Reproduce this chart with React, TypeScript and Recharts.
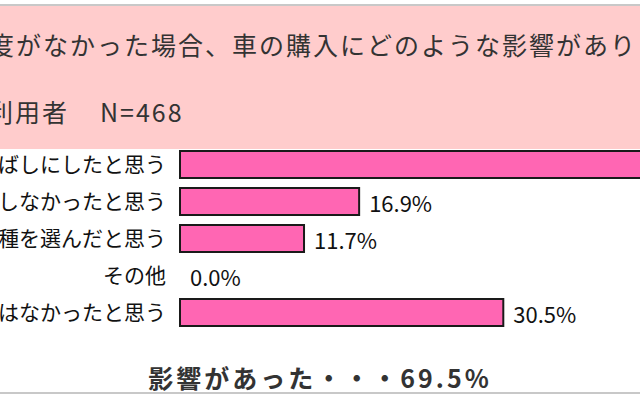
import React from 'react';
import { BarChart, Bar, XAxis, YAxis } from 'recharts';

// answer choices (left part is clipped off in the original crop)
const answers = [
  '購入を先延ばしにしたと思う',
  '購入しなかったと思う',
  '別の車種を選んだと思う',
  'その他',
  '影響はなかったと思う',
];
// share of respondents, %
const shares = [44.0, 16.9, 11.7, 0.0, 30.5];

const rows = answers.map((label, i) => ({ label, value: shares[i] }));

const FONT = '"Noto Sans CJK JP", "Noto Sans", sans-serif';

// bar + its value label, so the 0.0% row still gets a label
const BarWithValue = (props: any) => {
  const { x, y, width, height, payload } = props;
  const v: number = payload ? payload.value : 0;
  return (
    <g>
      {width > 0 && (
        <rect x={x} y={y} width={width} height={height} fill="#FF66B3" stroke="#1a1a1a" strokeWidth={2} />
      )}
      <text
        x={x + width + 10}
        y={y + height / 2}
        dominantBaseline="central"
        fontSize={22}
        fill="#111"
        fontFamily={FONT}
      >
        {`${v.toFixed(1)}%`}
      </text>
    </g>
  );
};

const App: React.FC = () => {
  return (
    <div
      style={{
        position: 'fixed',
        top: 0,
        left: 0,
        width: 640,
        height: 400,
        overflow: 'hidden',
        background: '#fff',
        fontFamily: FONT,
      }}
    >
      {/* header */}
      <div
        style={{
          position: 'absolute',
          top: 4,
          left: 0,
          width: 640,
          height: 143,
          background: '#FFCCCC',
          borderTop: '2px solid #c8c8c8',
        }}
      >
        <div
          style={{
            position: 'absolute',
            left: -11,
            top: 22,
            fontSize: 25,
            letterSpacing: 2,
            color: '#333',
            whiteSpace: 'nowrap',
            lineHeight: '32px',
          }}
        >
          <span style={{ position: 'absolute', right: '100%', top: 0 }}>エコカー減税・補助金制</span>
          度がなかった場合、車の購入にどのような影響がありましたか？
        </div>
        <div
          style={{
            position: 'absolute',
            left: -12,
            top: 89,
            fontSize: 25,
            letterSpacing: 2,
            color: '#333',
            whiteSpace: 'nowrap',
            lineHeight: '32px',
          }}
        >
          <span style={{ position: 'absolute', right: '100%', top: 0 }}>補助金制度</span>
          利用者
          <span style={{ marginLeft: 31 }}>N=468</span>
        </div>
      </div>

      {/* bars */}
      <div style={{ position: 'absolute', left: -100, top: 146 }}>
        <BarChart
          layout="vertical"
          width={810}
          height={185}
          data={rows}
          margin={{ top: 0, right: 0, bottom: 0, left: 0 }}
          barSize={27}
        >
          <XAxis type="number" hide domain={[0, 50]} />
          <YAxis
            type="category"
            dataKey="label"
            width={280}
            tickLine={false}
            axisLine={false}
            tickSize={0}
            tickMargin={14}
            tick={{ fontSize: 21, fill: '#111', fontFamily: FONT }}
          />
          <Bar dataKey="value" shape={BarWithValue} isAnimationActive={false} />
        </BarChart>
      </div>

      {/* summary */}
      <div
        style={{
          position: 'absolute',
          left: 0,
          width: 640,
          top: 362,
          textAlign: 'center',
          fontSize: 25,
          fontWeight: 700,
          letterSpacing: 3,
          color: '#333',
          whiteSpace: 'nowrap',
          lineHeight: '30px',
        }}
      >
        影響があった・・・69.5%
      </div>
      <div
        style={{
          position: 'absolute',
          left: 0,
          top: 392,
          width: 640,
          height: 2,
          background: '#c8c8c8',
        }}
      />
    </div>
  );
};

export default App;
